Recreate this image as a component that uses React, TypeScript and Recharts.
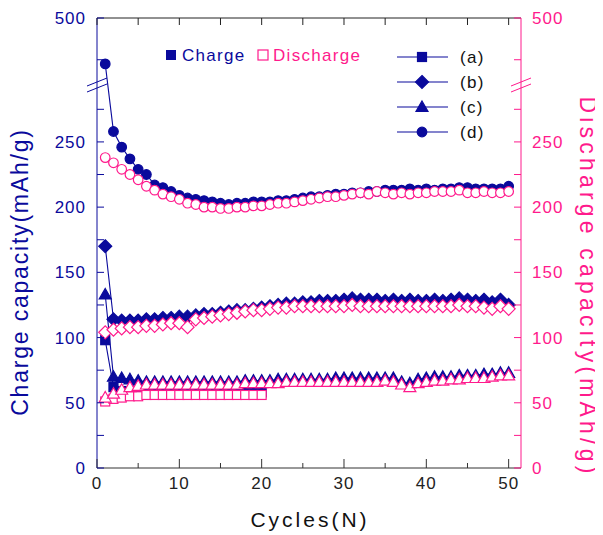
import { ComposedChart, Line, XAxis, YAxis, Customized } from "recharts";

const BLUE = "#0a0a9c";
const PINK = "#ff1a8c";
const FONT = "'Liberation Sans', Arial, sans-serif";

// cycle numbers 1..50
const cycles = Array.from({ length: 50 }, (_, i) => i + 1);

// (a) only measured for the first 20 cycles
const chargeA = [98, 62, 59, 58, 58, 58, 58, 58, 58, 58, 58, 58, 58, 58, 58, 58, 59, 58, 58, 58];
const dischargeA = [51, 53, 54, 55, 55, 56, 56, 56, 56, 56, 56, 56, 56, 56, 56, 56, 56, 56, 56, 56];

const chargeB = [
  170, 114, 113, 113, 113, 114, 114, 115, 115, 116, 116, 117, 118, 118, 119, 120, 121, 121, 122, 123,
  124, 125, 126, 126, 127, 127, 128, 128, 128, 129, 130, 129, 129, 129, 128, 129, 128, 129, 128, 128,
  129, 128, 129, 130, 129, 128, 129, 127, 129, 125,
];
const dischargeB = [
  104, 106, 107, 108, 108, 109, 109, 110, 111, 111, 108, 114, 115, 116, 117, 118, 119, 120, 121, 121,
  122, 123, 123, 124, 124, 124, 124, 124, 124, 124, 125, 124, 124, 124, 124, 124, 124, 124, 124, 124,
  124, 124, 124, 125, 124, 124, 123, 122, 124, 122,
];

const chargeC = [
  133, 70, 69, 68, 67, 66, 66, 66, 66, 66, 66, 66, 66, 66, 66, 66, 66, 67, 67, 67,
  67, 68, 68, 68, 68, 68, 68, 68, 69, 69, 69, 69, 69, 69, 69, 69, 66, 65, 68, 69,
  70, 70, 70, 71, 71, 71, 72, 72, 73, 73,
];
const dischargeC = [
  54, 57, 60, 62, 63, 64, 64, 64, 64, 64, 64, 64, 64, 64, 64, 64, 64, 65, 65, 65,
  65, 65, 66, 66, 66, 66, 66, 66, 66, 66, 66, 66, 66, 66, 67, 66, 64, 62, 65, 66,
  67, 67, 68, 68, 69, 69, 69, 70, 71, 71,
];

const chargeD = [
  445, 258, 246, 237, 229, 225, 217, 215, 212, 209, 207, 206, 205, 204, 203, 202, 203, 203, 204, 204,
  204, 205, 205, 206, 207, 208, 208, 209, 210, 210, 211, 211, 212, 212, 213, 213, 213, 214, 213, 214,
  213, 214, 214, 215, 215, 214, 214, 214, 214, 216,
];
const dischargeD = [
  238, 234, 229, 225, 221, 216, 213, 210, 208, 206, 203, 202, 200, 200, 199, 199, 200, 200, 201, 201,
  202, 203, 203, 204, 205, 206, 207, 208, 208, 209, 210, 211, 210, 212, 211, 210, 211, 210, 211, 211,
  212, 212, 212, 213, 211, 211, 212, 211, 211, 212,
];

const xTicks = [0, 5, 10, 15, 20, 25, 30, 35, 40, 45, 50];
// broken y axis: 0..275 linear, then 450..500 compressed above the break
const yTickValues = [0, 25, 50, 75, 100, 125, 150, 175, 200, 225, 250, 275, 450, 500];
const yLabels = [0, 50, 100, 150, 200, 250, 500];

const toAxis = (v?: number) => (v == null ? null : v <= 290 ? v : 313 + (v - 450) * 0.64);
const fromAxis = (d: number) => (d <= 290 ? d : Math.round(450 + (d - 313) / 0.64));

const rows = cycles.map((c, i) => ({
  cycle: c,
  aC: toAxis(chargeA[i]),
  aD: toAxis(dischargeA[i]),
  bC: toAxis(chargeB[i]),
  bD: toAxis(dischargeB[i]),
  cC: toAxis(chargeC[i]),
  cD: toAxis(dischargeC[i]),
  dC: toAxis(chargeD[i]),
  dD: toAxis(dischargeD[i]),
}));

type Shape = "square" | "diamond" | "triangle" | "circle";

function marker(shape: Shape, cx: number, cy: number, fill: string, stroke: string, key?: any) {
  if (shape === "square")
    return <rect key={key} x={cx - 4.5} y={cy - 4.5} width={9} height={9} fill={fill} stroke={stroke} strokeWidth={1.2} />;
  if (shape === "diamond")
    return (
      <polygon key={key} points={`${cx},${cy - 6.5} ${cx + 6.5},${cy} ${cx},${cy + 6.5} ${cx - 6.5},${cy}`}
        fill={fill} stroke={stroke} strokeWidth={1.2} />
    );
  if (shape === "triangle")
    return (
      <polygon key={key} points={`${cx},${cy - 6} ${cx + 6},${cy + 4.5} ${cx - 6},${cy + 4.5}`}
        fill={fill} stroke={stroke} strokeWidth={1.2} />
    );
  return <circle key={key} cx={cx} cy={cy} r={4.8} fill={fill} stroke={stroke} strokeWidth={1.2} />;
}

const dot = (shape: Shape, filled: boolean) => (p: any) => {
  const { cx, cy, index, value } = p;
  if (cx == null || cy == null || value == null || Number.isNaN(cy)) return <g key={index} />;
  return filled ? marker(shape, cx, cy, BLUE, BLUE, index) : marker(shape, cx, cy, "#fff", PINK, index);
};

const BottomTick = (p: any) => {
  const { x, y, payload } = p;
  const major = payload.value % 10 === 0;
  return (
    <g>
      <line x1={x} x2={x} y1={y} y2={y - (major ? 9 : 5)} stroke="#333" />
      {major && (
        <text x={x} y={y + 21} textAnchor="middle" fill="#222" fontSize={17} fontFamily={FONT} letterSpacing={1}>
          {payload.value}
        </text>
      )}
    </g>
  );
};

const TopTick = (p: any) => {
  const { x, y } = p;
  return <line x1={x} x2={x} y1={y} y2={y + 7} stroke="#222" />;
};

const yTick = (side: "left" | "right") => (p: any) => {
  const { x, y, payload } = p;
  const real = fromAxis(payload.value);
  const color = side === "left" ? BLUE : PINK;
  const dir = side === "left" ? 1 : -1;
  const show = yLabels.includes(real);
  return (
    <g>
      <line x1={x} x2={x + dir * 7} y1={y} y2={y} stroke={color} />
      {show && (
        <text x={x - dir * 11} y={y + 6} textAnchor={side === "left" ? "end" : "start"} fill={color}
          fontSize={17} fontFamily={FONT} letterSpacing={1}>
          {real}
        </text>
      )}
    </g>
  );
};

const legendRows: [Shape, string][] = [
  ["square", "(a)"],
  ["diamond", "(b)"],
  ["triangle", "(c)"],
  ["circle", "(d)"],
];

const Decorations = () => (
  <g fontFamily={FONT}>
    {/* axis breaks */}
    <line x1={79} y1={78} x2={99} y2={70} stroke={BLUE} />
    <line x1={79} y1={84} x2={99} y2={76} stroke={BLUE} />
    <line x1={503} y1={78} x2={523} y2={70} stroke={PINK} />
    <line x1={503} y1={84} x2={523} y2={76} stroke={PINK} />

    {/* charge / discharge key */}
    <rect x={158} y={42} width={10} height={10} fill={BLUE} />
    <text x={174} y={53} fill={BLUE} fontSize={17} letterSpacing={1.3}>Charge</text>
    <rect x={250} y={42} width={10} height={10} fill="#fff" stroke={PINK} strokeWidth={1.2} />
    <text x={265} y={53} fill={PINK} fontSize={17} letterSpacing={1.3}>Discharge</text>

    {/* sample key */}
    {legendRows.map(([s, lab], i) => (
      <g key={lab}>
        <line x1={389} x2={440} y1={49 + i * 25} y2={49 + i * 25} stroke={BLUE} strokeWidth={1.2} />
        {marker(s, 414, 49 + i * 25, BLUE, BLUE)}
        <text x={452} y={55 + i * 25} fill="#111" fontSize={17} letterSpacing={1.3}>{lab}</text>
      </g>
    ))}

    {/* axis titles */}
    <text x={20} y={264} transform="rotate(-90, 20, 264)" textAnchor="middle" fill={BLUE} fontSize={23} letterSpacing={1.8}>
      Charge capacity(mAh/g)
    </text>
    <text x={572} y={279} transform="rotate(90, 572, 279)" textAnchor="middle" fill={PINK} fontSize={23} letterSpacing={4.2}>
      Discharge capacity(mAh/g)
    </text>
    <text x={302} y={519} textAnchor="middle" fill="#111" fontSize={21} letterSpacing={3}>
      Cycles(N)
    </text>
  </g>
);

const series: [string, string, Shape][] = [
  ["aC", "aD", "square"],
  ["bC", "bD", "diamond"],
  ["cC", "cD", "triangle"],
  ["dC", "dD", "circle"],
];

export default function App() {
  const yTicks = yTickValues.map((v) => toAxis(v) as number);
  return (
    <ComposedChart width={595} height={527} data={rows} margin={{ top: 0, right: 0, bottom: 0, left: 0 }}>
      <XAxis dataKey="cycle" type="number" domain={[0, 51.5]} ticks={xTicks} interval={0}
        tickSize={0} tickMargin={0} tick={<BottomTick />} stroke="#333" height={67} allowDataOverflow />
      <XAxis xAxisId="top" orientation="top" dataKey="cycle" type="number" domain={[0, 51.5]} ticks={xTicks}
        interval={0} tickSize={0} tickMargin={0} tick={<TopTick />} stroke="#222" height={10} allowDataOverflow />
      <YAxis yAxisId="L" orientation="left" type="number" domain={[0, 345]} ticks={yTicks} interval={0}
        width={89} tickSize={0} tickMargin={0} tick={yTick("left")} stroke={BLUE} allowDataOverflow />
      <YAxis yAxisId="R" orientation="right" type="number" domain={[0, 345]} ticks={yTicks} interval={0}
        width={82} tickSize={0} tickMargin={0} tick={yTick("right")} stroke={PINK} allowDataOverflow />
      {series.flatMap(([c, d, s]) => [
        <Line key={c} yAxisId="L" dataKey={c} stroke={BLUE} strokeWidth={1.1} dot={dot(s, true)}
          activeDot={false} isAnimationActive={false} type="linear" />,
        <Line key={d} yAxisId="R" dataKey={d} stroke={PINK} strokeWidth={1.1} dot={dot(s, false)}
          activeDot={false} isAnimationActive={false} type="linear" />,
      ])}
      <Customized component={Decorations} />
    </ComposedChart>
  );
}
